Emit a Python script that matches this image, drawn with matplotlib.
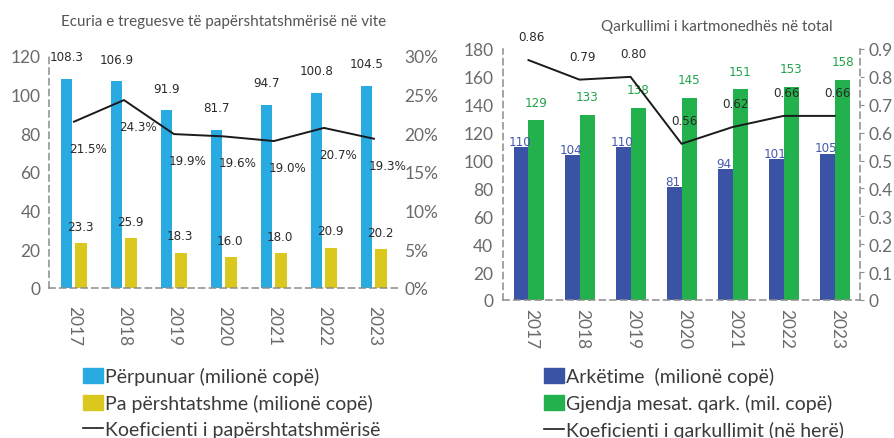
import matplotlib.pyplot as plt
import numpy as np
from matplotlib.patches import Patch
from matplotlib.lines import Line2D

years = ['2017', '2018', '2019', '2020', '2021', '2022', '2023']

# left panel: processed vs unfit banknotes
perpunuar = [108.3, 106.9, 91.9, 81.7, 94.7, 100.8, 104.5]
pa_pershtatshme = [23.3, 25.9, 18.3, 16.0, 18.0, 20.9, 20.2]
koef_papersht = [21.5, 24.3, 19.9, 19.6, 19.0, 20.7, 19.3]

# right panel: banknote circulation
arketime = [110, 104, 110, 81, 94, 101, 105]
gjendja = [129, 133, 138, 145, 151, 153, 158]
koef_qark = [0.86, 0.79, 0.80, 0.56, 0.62, 0.66, 0.66]

c_blue = '#29ABE2'
c_yellow = '#DBC81F'
c_navy = '#3A53A4'
c_green = '#22B14C'
grey = '#6A6A6A'
light = 'Lato'
narrow = dict(family=['Liberation Sans Narrow', 'DejaVu Sans'], stretch='condensed', fontsize=9.5)

fig = plt.figure(figsize=(8.95, 4.39), dpi=100)
x = np.arange(len(years))


def style(ax, tick_pad=6, year_pad=12):
    for s in ['top', 'right']:
        ax.spines[s].set_visible(False)
    for s in ['left', 'bottom']:
        ax.spines[s].set_linestyle((0, (4, 3)))
        ax.spines[s].set_color('#8C8C8C')
        ax.spines[s].set_linewidth(1.1)
    ax.tick_params(axis='y', length=0, pad=tick_pad, labelsize=12.5, labelcolor=grey)
    ax.tick_params(axis='x', length=0, pad=year_pad, labelsize=12.5, labelcolor=grey)
    for lab in ax.get_xticklabels() + ax.get_yticklabels():
        lab.set_family(light)


# ---- left chart
ax1 = fig.add_axes([0.0547, 0.3417, 0.391, 0.5285])
ax1.bar(x - 0.14, perpunuar, width=0.22, color=c_blue)
ax1.bar(x + 0.14, pa_pershtatshme, width=0.24, color=c_yellow)
ax1.set_xlim(-0.5, 6.5)
ax1.set_ylim(0, 120)
ax1.set_yticks(range(0, 121, 20))
ax1.set_xticks(x)
ax1.set_xticklabels(years, rotation=270, va='top', ha='center')
style(ax1, year_pad=12)
ax1.set_title('Ecuria e treguesve të papërshtatshmërisë në vite', fontsize=11,
              color='#555555', family=light, pad=22)

ax1r = ax1.twinx()
ax1r.plot(x, koef_papersht, color='#1A1A1A', lw=1.4)
ax1r.set_ylim(0, 30)
ax1r.set_yticks(range(0, 31, 5))
ax1r.set_yticklabels([f'{v}%' for v in range(0, 31, 5)])
for s in ['top', 'right', 'left', 'bottom']:
    ax1r.spines[s].set_visible(False)
ax1r.tick_params(axis='y', length=0, pad=4, labelsize=12.5, labelcolor=grey)
for lab in ax1r.get_yticklabels():
    lab.set_family(light)

for i in range(len(years)):
    ax1.annotate(f'{perpunuar[i]:.1f}', (x[i] - 0.14, perpunuar[i]), xytext=(0, 16),
                 textcoords='offset points', ha='center', va='center', color='#2B2B2B', **narrow)
    ax1.annotate(f'{pa_pershtatshme[i]:.1f}', (x[i] + 0.12, pa_pershtatshme[i]), xytext=(0, 12),
                 textcoords='offset points', ha='center', va='center', color='#2B2B2B', **narrow)
    ax1r.annotate(f'{koef_papersht[i]:.1f}%', (x[i], koef_papersht[i]), xytext=(10, -19),
                  textcoords='offset points', ha='center', va='center', color='#2B2B2B', **narrow)

# ---- right chart
ax2 = fig.add_axes([0.562, 0.3144, 0.399, 0.5718])
ax2.bar(x, arketime, width=-0.28, align='edge', color=c_navy)
ax2.bar(x, gjendja, width=0.31, align='edge', color=c_green)
ax2.set_xlim(-0.5, 6.5)
ax2.set_ylim(0, 180)
ax2.set_yticks(range(0, 181, 20))
ax2.set_xticks(x + 0.06)
ax2.set_xticklabels(years, rotation=270, va='top', ha='center')
style(ax2, tick_pad=7, year_pad=6)
ax2.set_title('Qarkullimi i kartmonedhës në total', fontsize=11, color='#555555',
              family=light, pad=14, x=0.6)

ax2r = ax2.twinx()
ax2r.plot(x, koef_qark, color='#1A1A1A', lw=1.4)
ax2r.set_ylim(0, 0.9)
ax2r.set_yticks(np.arange(0, 0.91, 0.1))
ax2r.set_yticklabels(['0'] + [f'{v:.1f}' for v in np.arange(0.1, 0.91, 0.1)])
for s in ['top', 'left', 'bottom']:
    ax2r.spines[s].set_visible(False)
ax2r.spines['right'].set_linestyle((0, (4, 3)))
ax2r.spines['right'].set_color('#8C8C8C')
ax2r.spines['right'].set_linewidth(1.1)
ax2r.tick_params(axis='y', length=3, color='#8C8C8C', pad=3, labelsize=12.5, labelcolor=grey)
for lab in ax2r.get_yticklabels():
    lab.set_family(light)

for i in range(len(years)):
    ax2.annotate(f'{arketime[i]}', (x[i] - 0.14, arketime[i]), xytext=(-1, 4),
                 textcoords='offset points', ha='center', va='center', color='#4558AE', **narrow)
    ax2.annotate(f'{gjendja[i]}', (x[i] + 0.155, gjendja[i]), xytext=(0, 13),
                 textcoords='offset points', ha='center', va='center', color='#22A24A', **narrow)
    ax2r.annotate(f'{koef_qark[i]:.2f}', (x[i], koef_qark[i]), xytext=(2, 17),
                  textcoords='offset points', ha='center', va='center', color='#2B2B2B', **narrow)

# ---- legends
leg_font = dict(family=light, size=14)
h1 = [Patch(color=c_blue), Patch(color=c_yellow), Line2D([], [], color='#1A1A1A', lw=1.2)]
l1 = ['Përpunuar (milionë copë)', 'Pa përshtatshme (milionë copë)', 'Koeficienti i papërshtatshmërisë']
fig.legend(h1, l1, loc='upper left', bbox_to_anchor=(0.093, 0.161), frameon=False,
           handlelength=1.0, handleheight=0.75, handletextpad=0.1, labelspacing=0.45,
           borderaxespad=0, borderpad=0, prop=leg_font, labelcolor='#3A3A3A')

h2 = [Patch(color=c_navy), Patch(color=c_green), Line2D([], [], color='#1A1A1A', lw=1.2)]
l2 = ['Arkëtime  (milionë copë)', 'Gjendja mesat. qark. (mil. copë)', 'Koeficienti i qarkullimit (në herë)']
fig.legend(h2, l2, loc='upper left', bbox_to_anchor=(0.608, 0.161), frameon=False,
           handlelength=1.0, handleheight=0.75, handletextpad=0.1, labelspacing=0.45,
           borderaxespad=0, borderpad=0, prop=leg_font, labelcolor='#3A3A3A')

fig.savefig('out.png', dpi=100)
